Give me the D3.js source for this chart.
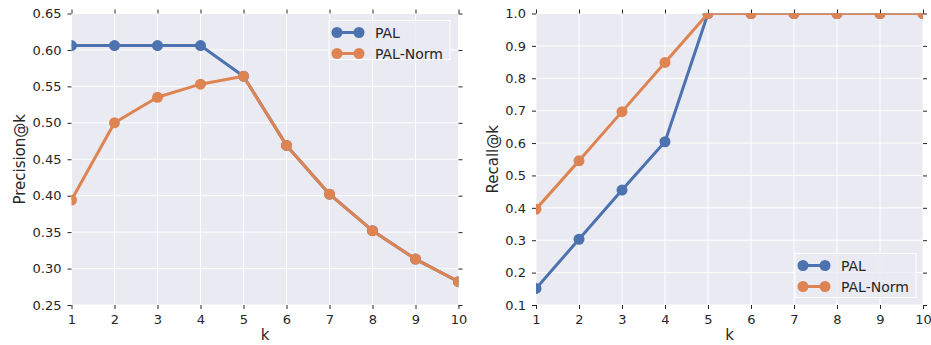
<!DOCTYPE html>
<html><head><meta charset="utf-8">
<script src="https://cdn.jsdelivr.net/npm/d3@7"></script>
<style>
body{margin:0;background:#fff;}
svg{display:block;font-family:"DejaVu Sans",sans-serif;}
</style></head>
<body>
<svg id="c" width="931" height="345"></svg>
<script>
const ks = [1,2,3,4,5,6,7,8,9,10];
const precisionPAL = [0.606,0.606,0.606,0.606,0.564,0.469,0.402,0.352,0.313,0.282];
const precisionNorm = [0.394,0.500,0.535,0.553,0.564,0.469,0.402,0.352,0.313,0.282];
const recallPAL = [0.151,0.303,0.455,0.604,1.0,1.0,1.0,1.0,1.0,1.0];
const recallNorm = [0.396,0.545,0.697,0.849,1.0,1.0,1.0,1.0,1.0,1.0];
const seriesNames = ["PAL","PAL-Norm"];
const colors = ["#4C72B0","#DD8452"];
const precisionTicks = [0.25,0.30,0.35,0.40,0.45,0.50,0.55,0.60,0.65];
const recallTicks = [0.1,0.2,0.3,0.4,0.5,0.6,0.7,0.8,0.9,1.0];

const svg = d3.select("#c");

function panel(opt){
  const g = svg.append("g");
  const x = d3.scaleLinear().domain([1,10]).range([opt.x0,opt.x1]);
  const y = d3.scaleLinear().domain(opt.ydom).range([opt.y1,opt.y0]);
  g.append("rect").attr("x",opt.x0).attr("y",opt.y0).attr("width",opt.x1-opt.x0).attr("height",opt.y1-opt.y0).attr("fill","#EAEAF2");
  g.selectAll(".gx").data(ks).enter().append("line")
    .attr("x1",d=>x(d)).attr("x2",d=>x(d)).attr("y1",opt.y0).attr("y2",opt.y1)
    .attr("stroke","#fff").attr("stroke-width",1);
  g.selectAll(".gy").data(opt.yticks).enter().append("line")
    .attr("y1",d=>y(d)).attr("y2",d=>y(d)).attr("x1",opt.x0).attr("x2",opt.x1)
    .attr("stroke","#fff").attr("stroke-width",1);
  const axB = d3.axisBottom(x).tickValues(ks).tickFormat(d3.format("d")).tickSizeInner(4).tickSizeOuter(0).tickPadding(6);
  const axT = d3.axisTop(x).tickValues(ks).tickFormat("").tickSizeInner(4).tickSizeOuter(0);
  const axL = d3.axisLeft(y).tickValues(opt.yticks).tickFormat(opt.yfmt).tickSizeInner(4).tickSizeOuter(0).tickPadding(6);
  const axR = d3.axisRight(y).tickValues(opt.yticks).tickFormat("").tickSizeInner(4).tickSizeOuter(0);
  const styleAx = a => { a.select(".domain").remove(); a.selectAll(".tick line").attr("stroke","#262626").attr("stroke-width",1);
    a.selectAll("text").attr("fill","#262626").style("font-size","13px").style("font-family","DejaVu Sans"); };
  g.append("g").attr("transform",`translate(0,${opt.y1})`).call(axB).call(styleAx);
  g.append("g").attr("transform",`translate(0,${opt.y0})`).call(axT).call(styleAx);
  g.append("g").attr("transform",`translate(${opt.x0},0)`).call(axL).call(styleAx);
  g.append("g").attr("transform",`translate(${opt.x1},0)`).call(axR).call(styleAx);
  g.append("text").attr("x",(opt.x0+opt.x1)/2).attr("y",opt.y1+35).attr("text-anchor","middle")
    .attr("fill","#262626").style("font-size","15px").text("k");
  g.append("text").attr("transform",`translate(${opt.x0-opt.ylabOff},${(opt.y0+opt.y1)/2}) rotate(-90)`)
    .attr("text-anchor","middle").attr("fill","#262626").style("font-size","15px").text(opt.ylabel);
  const cid = "clip"+opt.id;
  svg.append("clipPath").attr("id",cid).append("rect").attr("x",opt.x0).attr("y",opt.y0).attr("width",opt.x1-opt.x0).attr("height",opt.y1-opt.y0);
  const line = d3.line().x((d,i)=>x(ks[i])).y(d=>y(d));
  const pg = g.append("g").attr("clip-path",`url(#${cid})`);
  opt.data.forEach((vals,si)=>{
    pg.append("path").datum(vals).attr("d",line).attr("fill","none").attr("stroke",colors[si]).attr("stroke-width",3).attr("stroke-linejoin","round");
    pg.selectAll(".m"+si).data(vals).enter().append("circle")
      .attr("cx",(d,i)=>x(ks[i])).attr("cy",d=>y(d)).attr("r",5.5).attr("fill",colors[si]);
  });
  const L = opt.legend;
  const lg = g.append("g");
  lg.append("rect").attr("x",L.x).attr("y",L.y).attr("width",L.w).attr("height",L.h)
    .attr("fill","#EAEAF2").attr("fill-opacity",0.8).attr("stroke","#fff").attr("stroke-width",1);
  seriesNames.forEach((n,i)=>{
    const cy = L.y + 12 + i*21;
    lg.append("line").attr("x1",L.x+8).attr("x2",L.x+30).attr("y1",cy).attr("y2",cy).attr("stroke",colors[i]).attr("stroke-width",3);
    lg.append("circle").attr("cx",L.x+8).attr("cy",cy).attr("r",5.5).attr("fill",colors[i]);
    lg.append("circle").attr("cx",L.x+30).attr("cy",cy).attr("r",5.5).attr("fill",colors[i]);
    lg.append("text").attr("x",L.x+46).attr("y",cy+5).attr("fill","#262626").style("font-size","14px").text(n);
  });
}

panel({id:1,x0:71.5,x1:458.5,y0:13.5,y1:305,ydom:[0.25,0.65],yticks:precisionTicks,yfmt:d3.format(".2f"),
  ylabel:"Precision@k",ylabOff:47,data:[precisionPAL,precisionNorm],legend:{x:329,y:20.5,w:121,h:39}});
panel({id:2,x0:536,x1:923,y0:13.5,y1:305,ydom:[0.1,1.0],yticks:recallTicks,yfmt:d3.format(".1f"),
  ylabel:"Recall@k",ylabOff:38,data:[recallPAL,recallNorm],legend:{x:795,y:253.5,w:121,h:44}});
</script>
</body></html>
